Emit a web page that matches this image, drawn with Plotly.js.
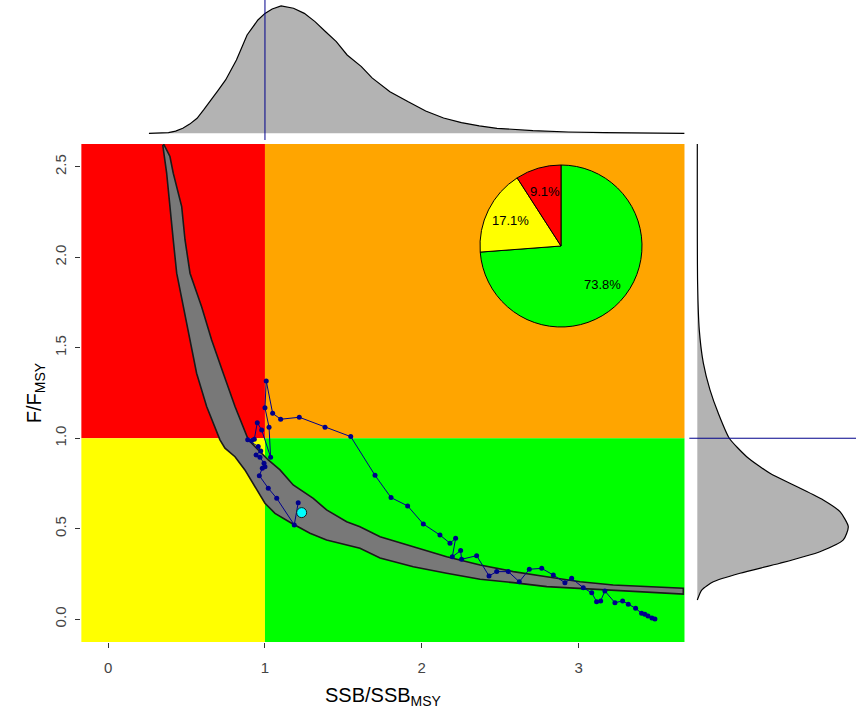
<!DOCTYPE html>
<html>
<head>
<meta charset="utf-8">
<script src="https://cdn.plot.ly/plotly-3.0.1.min.js"></script>
<style>html,body{margin:0;padding:0;background:#fff;}#plot{width:856px;height:724px;}</style>
</head>
<body>
<div id="plot"></div>
<script>
// ---------- data ----------
const xTickVals = [0, 1, 2, 3];
const xTickText = ['0', '1', '2', '3'];
const yTickVals = [0, 0.5, 1, 1.5, 2, 2.5];
const yTickText = ['0.0', '0.5', '1.0', '1.5', '2.0', '2.5'];

// upper (right) edge of the posterior cloud
const bandUpperB = [0.353,0.394,0.415,0.469,0.490,0.522,0.596,0.660,0.734,0.783,0.809,0.894,1.021,1.096,1.180,1.308,1.393,1.521,1.606,1.734,1.946,2.159,2.372,2.584,2.797,3.010,3.221,3.434,3.668];
const bandUpperF = [2.627,2.557,2.465,2.280,2.097,1.912,1.727,1.543,1.359,1.239,1.175,0.991,0.880,0.825,0.742,0.668,0.604,0.539,0.511,0.456,0.401,0.345,0.300,0.263,0.235,0.207,0.189,0.180,0.171];
// lower (left) edge of the posterior cloud
const bandLowerB = [0.348,0.373,0.394,0.415,0.437,0.479,0.522,0.564,0.628,0.713,0.745,0.809,0.872,0.936,1.000,1.064,1.170,1.287,1.393,1.606,1.734,1.946,2.159,2.372,2.584,2.797,3.010,3.221,3.434,3.668];
const bandLowerF = [2.621,2.465,2.280,2.096,1.912,1.727,1.543,1.359,1.175,0.991,0.945,0.898,0.825,0.732,0.641,0.585,0.530,0.475,0.438,0.392,0.338,0.290,0.254,0.221,0.202,0.180,0.167,0.158,0.149,0.139];

// stock trajectory (first year -> last year)
const trajB = [3.487,3.468,3.443,3.423,3.402,3.364,3.317,3.281,3.232,3.168,3.141,3.115,3.084,3.030,2.956,2.913,2.839,2.765,2.686,2.622,2.552,2.478,2.429,2.350,2.254,2.248,2.195,2.216,2.180,2.116,2.010,1.910,1.804,1.702,1.547,1.383,1.219,1.100,1.049,1.008,1.000,1.026,1.036,0.979,0.951,0.932,0.915,0.890,0.957,0.973,0.943,0.968,0.994,1.000,0.983,0.964,1.021,1.075,1.187,1.212];
const trajF = [0.001,0.007,0.018,0.027,0.033,0.060,0.082,0.101,0.091,0.156,0.101,0.097,0.146,0.174,0.226,0.202,0.244,0.281,0.276,0.207,0.263,0.263,0.239,0.351,0.331,0.379,0.345,0.447,0.420,0.465,0.526,0.626,0.672,0.795,1.009,1.061,1.116,1.105,1.138,1.317,1.169,1.061,0.895,1.046,1.086,0.994,0.987,0.991,0.954,0.930,0.908,0.895,0.862,0.843,0.834,0.793,0.724,0.668,0.521,0.644];
const lastB = [1.234];
const lastF = [0.589];

// marginal density of SSB/SSBmsy (relative height)
const ssbDensB = [0.26,0.385,0.43,0.476,0.52,0.567,0.61,0.658,0.70,0.749,0.818,0.886,0.955,1.0,1.046,1.103,1.182,1.251,1.319,1.387,1.455,1.524,1.615,1.683,1.797,1.911,2.025,2.139,2.253,2.367,2.48,2.709,2.936,3.164,3.392,3.676];
const ssbDens  = [0,0.005,0.017,0.039,0.072,0.118,0.185,0.262,0.335,0.419,0.576,0.772,0.890,0.942,0.976,1.0,0.982,0.942,0.877,0.798,0.720,0.615,0.524,0.435,0.327,0.249,0.175,0.120,0.084,0.058,0.039,0.021,0.010,0.005,0.003,0];

// marginal density of F/Fmsy (relative height)
const fDensF = [2.631,1.857,1.599,1.415,1.267,1.138,1.0,0.898,0.806,0.733,0.659,0.594,0.511,0.438,0.373,0.309,0.254,0.207,0.161,0.106];
const fDens  = [0,0.002,0.013,0.04,0.084,0.139,0.212,0.327,0.481,0.658,0.834,0.945,1.0,0.967,0.812,0.547,0.283,0.106,0.029,0];

// Kobe quadrant probabilities (listed clockwise from 12 o'clock)
const pieLabels = ['73.8%', '17.1%', '9.1%'];
const pieValues = [73.8, 17.1, 9.1];
const pieColors = ['#00FF00', '#FFFF00', '#FF0000'];

// ---------- layout geometry ----------
const W = 856, H = 724;
const FONT = 'Liberation Sans, Arial, Helvetica, sans-serif';
const xRange = [-0.172, 3.677];
const yRange = [-0.126, 2.626];
const xDom = [81.2 / W, 684.7 / W];
const yDom = [(H - 642) / H, (H - 144) / H];
const topDomY = [(H - 140) / H, 1];
const rightDomX = [690 / W, 1];

const pieCx = 561, pieCy = 246, pieR = 81;
const pieDomX = [(pieCx - pieR) / W, (pieCx + pieR) / W];
const pieDomY = [(H - pieCy - pieR) / H, (H - pieCy + pieR) / H];

const traces = [];

// posterior cloud
traces.push({
  type: 'scatter', mode: 'lines',
  x: bandUpperB.concat(bandLowerB.slice().reverse()),
  y: bandUpperF.concat(bandLowerF.slice().reverse()),
  fill: 'toself', fillcolor: '#787878',
  line: {color: '#1a1a1a', width: 1.6},
  xaxis: 'x', yaxis: 'y', hoverinfo: 'skip', showlegend: false
});
// trajectory
traces.push({
  type: 'scatter', mode: 'lines+markers',
  x: trajB, y: trajF,
  line: {color: '#00008B', width: 1},
  marker: {color: '#00008B', size: 5},
  xaxis: 'x', yaxis: 'y', showlegend: false
});
// final year
traces.push({
  type: 'scatter', mode: 'markers',
  x: lastB, y: lastF,
  marker: {color: '#00FFFF', size: 10, line: {color: '#1a1a1a', width: 1}},
  xaxis: 'x', yaxis: 'y', showlegend: false
});
// top density
traces.push({
  type: 'scatter', mode: 'lines',
  x: ssbDensB, y: ssbDens, fill: 'tozeroy', fillcolor: '#B3B3B3',
  line: {color: '#000', width: 1.2},
  xaxis: 'x2', yaxis: 'y2', showlegend: false, hoverinfo: 'skip'
});
// right density
traces.push({
  type: 'scatter', mode: 'lines',
  x: fDens, y: fDensF, fill: 'tozerox', fillcolor: '#B3B3B3',
  line: {color: '#000', width: 1.2, shape: 'spline', smoothing: 0.6},
  xaxis: 'x3', yaxis: 'y3', showlegend: false, hoverinfo: 'skip'
});
// pie
traces.push({
  type: 'pie', values: pieValues, labels: pieLabels,
  marker: {colors: pieColors, line: {color: '#000', width: 1}},
  textinfo: 'none', sort: false, direction: 'clockwise', rotation: 0,
  domain: {x: pieDomX, y: pieDomY}, showlegend: false, hoverinfo: 'skip'
});

// pie labels at 0.7 radius, mid-angle of each slice (clockwise from top)
const annotations = [];
const total = pieValues.reduce((a, b) => a + b, 0);
let cum = 0;
pieValues.forEach((v, i) => {
  const mid = (cum + v / 2) / total * 2 * Math.PI;
  cum += v;
  const dx = Math.sin(mid) * 0.7 * pieR;
  const dy = Math.cos(mid) * 0.7 * pieR;
  annotations.push({
    xref: 'paper', yref: 'paper',
    x: (pieCx + dx) / W, y: (H - pieCy + dy) / H,
    text: pieLabels[i], showarrow: false,
    font: {family: FONT, size: 13, color: '#000'},
    xanchor: 'center', yanchor: 'middle'
  });
});

const shapes = [
  {type: 'rect', xref: 'x', yref: 'y', x0: xRange[0], x1: 1, y0: 1, y1: yRange[1], fillcolor: '#FF0000', line: {width: 0}, layer: 'below'},
  {type: 'rect', xref: 'x', yref: 'y', x0: 1, x1: xRange[1], y0: 1, y1: yRange[1], fillcolor: '#FFA500', line: {width: 0}, layer: 'below'},
  {type: 'rect', xref: 'x', yref: 'y', x0: xRange[0], x1: 1, y0: yRange[0], y1: 1, fillcolor: '#FFFF00', line: {width: 0}, layer: 'below'},
  {type: 'rect', xref: 'x', yref: 'y', x0: 1, x1: xRange[1], y0: yRange[0], y1: 1, fillcolor: '#00FF00', line: {width: 0}, layer: 'below'},
  {type: 'line', xref: 'x', yref: 'paper', x0: 1, x1: 1, y0: topDomY[0], y1: 1, line: {color: '#00008B', width: 1}},
  {type: 'line', xref: 'paper', yref: 'y', x0: 689.3 / W, x1: 1, y0: 1, y1: 1, line: {color: '#00008B', width: 1}}
];

const layout = {
  width: W, height: H,
  margin: {l: 0, r: 0, t: 0, b: 0},
  paper_bgcolor: '#fff', plot_bgcolor: 'rgba(0,0,0,0)',
  showlegend: false,
  font: {family: FONT, color: '#333'},
  xaxis: {
    domain: xDom, range: xRange, anchor: 'y',
    tickvals: xTickVals, ticktext: xTickText,
    ticks: 'outside', ticklen: 5, tickcolor: '#333', tickwidth: 1,
    ticklabelstandoff: 7,
    tickfont: {family: FONT, size: 15, color: '#444'},
    showgrid: false, zeroline: false, showline: false,
    title: {text: 'SSB/SSB<sub>MSY</sub>', font: {family: FONT, size: 20, color: '#000'}, standoff: 12}
  },
  yaxis: {
    domain: yDom, range: yRange, anchor: 'x',
    tickvals: yTickVals, ticktext: yTickText, tickangle: -90,
    ticks: 'outside', ticklen: 5, tickcolor: '#333', tickwidth: 1,
    ticklabelstandoff: 3,
    tickfont: {family: FONT, size: 15, color: '#444'},
    showgrid: false, zeroline: false, showline: false,
    title: {text: 'F/F<sub>MSY</sub>', font: {family: FONT, size: 20, color: '#000'}, standoff: 5}
  },
  xaxis2: {domain: xDom, range: xRange, anchor: 'y2', visible: false, showgrid: false, zeroline: false},
  yaxis2: {domain: topDomY, range: [-0.0528, 1.047], anchor: 'x2', visible: false, showgrid: false, zeroline: false},
  xaxis3: {domain: rightDomX, range: [-0.0484, 1.051], anchor: 'y3', visible: false, showgrid: false, zeroline: false},
  yaxis3: {domain: yDom, range: yRange, anchor: 'x3', visible: false, showgrid: false, zeroline: false},
  shapes: shapes,
  annotations: annotations
};

Plotly.newPlot('plot', traces, layout, {displayModeBar: false, staticPlot: true});
</script>
</body>
</html>
